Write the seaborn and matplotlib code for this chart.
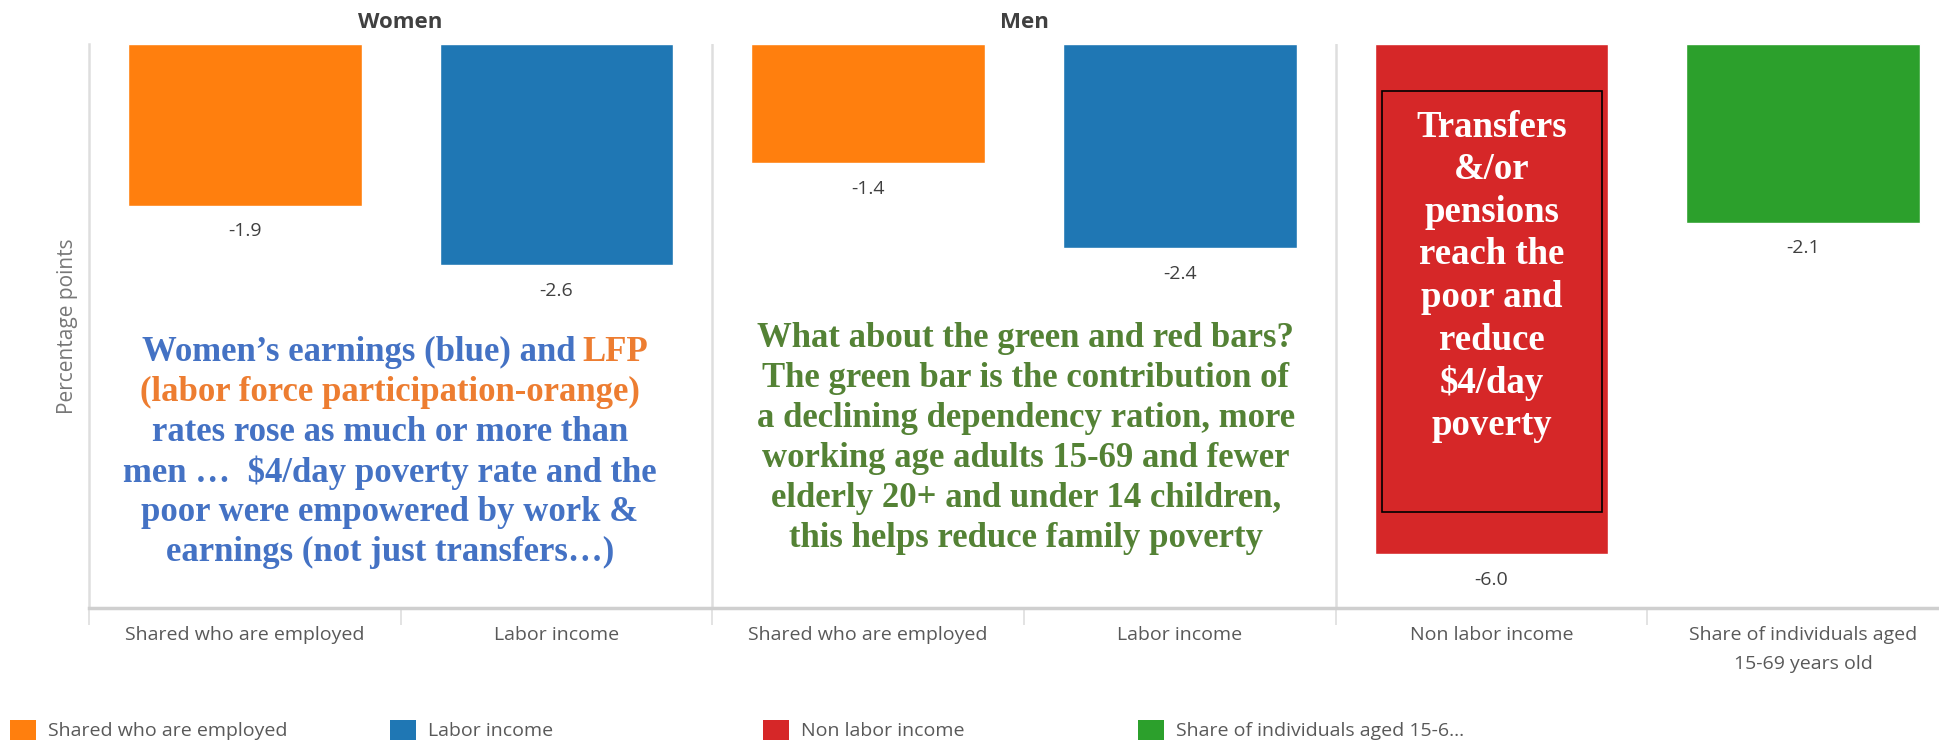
import numpy as np
import pandas as pd
import matplotlib
matplotlib.use("Agg")
import matplotlib.pyplot as plt
from matplotlib.patches import Patch, Rectangle
import seaborn as sns

# values (percentage points)
slots = ["w_emp", "w_lab", "m_emp", "m_lab", "nonlab", "age"]
tick_labels = ["Shared who are employed", "Labor income",
               "Shared who are employed", "Labor income",
               "Non labor income", "Share of individuals aged\n15-69 years old"]
series = ["Shared who are employed", "Labor income",
          "Shared who are employed", "Labor income",
          "Non labor income", "Share of individuals aged 15-69 years old"]
values = [-1.9, -2.6, -1.4, -2.4, -6.0, -2.1]
group_titles = ["Women", "Men"]
legend_labels = ["Shared who are employed", "Labor income",
                 "Non labor income", "Share of individuals aged 15-6..."]
series_order = ["Shared who are employed", "Labor income",
                "Non labor income", "Share of individuals aged 15-69 years old"]
series_colors = ["#ff7f0e", "#1f77b4", "#d62728", "#2ca02c"]

women_lines = ["Women’s earnings (blue) and", "(labor force participation-orange)",
               "rates rose as much or more than", "men …  $4/day poverty rate and the",
               "poor were empowered by work &", "earnings (not just transfers…)"]
men_lines = ["What about the green and red bars?", "The green bar is the contribution of",
             "a declining dependency ration, more", "working age adults 15-69 and fewer",
             "elderly 20+ and under 14 children,", "this helps reduce family poverty"]
red_lines = ["Transfers", "&/or", "pensions", "reach the", "poor and",
             "reduce", "$4/day", "poverty"]

df = pd.DataFrame({"slot": slots, "value": values, "series": series})

sns.set_style("white")
plt.rcParams["font.family"] = ["Open Sans", "DejaVu Sans"]

blue_txt = "#4472c4"
orange_txt = "#ed7d31"
green_txt = "#548235"
light = "#dedede"

fig = plt.figure(figsize=(19.4, 7.46), dpi=100)
ax = fig.add_axes([89 / 1940, 1 - 608 / 746, 1870 / 1940, 564 / 746])

sns.barplot(data=df, x="slot", y="value", hue="series", order=slots,
            hue_order=series_order, palette=series_colors, dodge=False,
            width=0.75, legend=False, ax=ax, saturation=1)

for c in ax.containers:
    ax.bar_label(c, fmt="%.1f", padding=12, fontsize=14, color="#404040")

ax.set_xlim(-0.5, 5.5)
ax.set_ylim(-6.63, 0)
ax.set_xticks(range(len(slots)))
ax.set_xticklabels(tick_labels)
ax.set_xticks(np.arange(-0.5, 6, 1), minor=True)
ax.tick_params(axis="x", which="major", length=0, pad=13,
               labelsize=14, labelcolor="#595959")
ax.tick_params(axis="x", which="minor", bottom=True, length=12, width=1.2,
               color=light, direction="out")
for lbl in ax.get_xticklabels():
    lbl.set_linespacing(1.75)
ax.set_yticks([])
ax.set_xlabel("")
ax.set_ylabel("Percentage points", fontsize=15, color="#777777", labelpad=8)

for s in ["top", "right"]:
    ax.spines[s].set_visible(False)
ax.spines["left"].set_color(light)
ax.spines["left"].set_linewidth(1.8)
ax.spines["bottom"].set_color("#cfcfcf")
ax.spines["bottom"].set_linewidth(2.5)

for xv in [1.5, 3.5]:
    ax.axvline(xv, color=light, lw=1.8, zorder=0)

for i, t in enumerate(group_titles):
    ax.text(0.5 + 2 * i, 0.25, t, ha="center", va="center", fontsize=16,
            fontweight="bold", color="#404040", clip_on=False)

serif = dict(family="Liberation Serif", fontweight="bold", fontsize=25)

# women note (first line is two-coloured)
y0, step = -3.63, 0.47
ax.text(1.062, y0, women_lines[0], ha="right", va="center", color=blue_txt, **serif)
ax.text(1.082, y0, "LFP", ha="left", va="center", color=orange_txt, **serif)
for k, line in enumerate(women_lines[1:], start=1):
    col = orange_txt if k == 1 else blue_txt
    ax.text(0.465, y0 - k * step, line, ha="center", va="center", color=col, **serif)

for k, line in enumerate(men_lines):
    ax.text(2.506, -3.46 - k * step, line, ha="center", va="center", color=green_txt, **serif)

ax.add_patch(Rectangle((3.649, -5.506), 0.706, 4.953, fill=False,
                       edgecolor="black", lw=1.2, zorder=3))
for k, line in enumerate(red_lines):
    ax.text(4.0, -0.98 - k * 0.5, line, ha="center", va="center", color="white",
            family="Liberation Serif", fontweight="bold", fontsize=26.5, zorder=4)

legend_x = [10, 390, 763, 1138]
for lx, lab, col in zip(legend_x, legend_labels, series_colors):
    fig.legend(handles=[Patch(facecolor=col, edgecolor="none", label=lab)],
               loc="center left", bbox_to_anchor=(lx / 1940, 1 - 730 / 746),
               frameon=False, fontsize=14, handlelength=1.35, handleheight=1.25,
               handletextpad=0.6, borderpad=0, borderaxespad=0,
               labelcolor="#595959")

fig.savefig("out.png", dpi=100)
